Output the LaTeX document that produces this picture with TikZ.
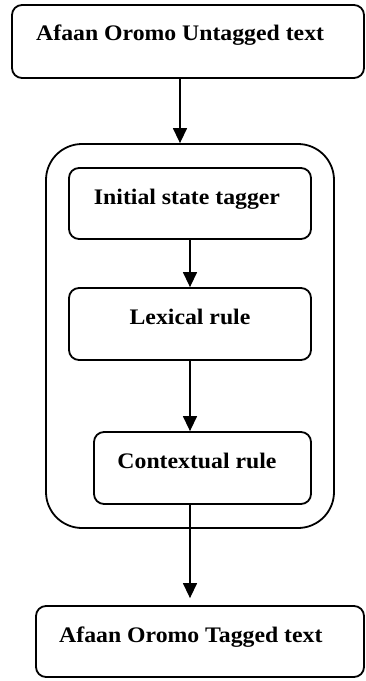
\documentclass[tikz,border=0pt]{standalone}
\usepackage{fontspec}
\setmainfont{Liberation Serif}[FakeStretch=1.07]
\usetikzlibrary{arrows.meta}
\begin{document}
\begin{tikzpicture}[x=1pt,y=-1pt,
  box/.style={draw,line width=1.8pt,rounded corners=10pt,inner sep=0pt},
  outerbox/.style={draw,line width=1.8pt,rounded corners=36pt,inner sep=0pt},
  lbl/.style={inner sep=0pt,font=\fontsize{22.2}{26}\selectfont\bfseries},
  arr/.style={line width=1.4pt,-{Triangle[width=14pt,length=15pt]}}]
\useasboundingbox (0,0) rectangle (365,681);
% boxes
\node[box,minimum width=352pt,minimum height=73pt] (top) at (188,41.5) {};
\node[outerbox,minimum width=288pt,minimum height=384pt] (outer) at (190,336) {};
\node[box,minimum width=242pt,minimum height=71pt] (init) at (190,203.5) {};
\node[box,minimum width=242pt,minimum height=72pt] (lex) at (190,324) {};
\node[box,minimum width=217pt,minimum height=72pt] (ctx) at (202.5,468) {};
\node[box,minimum width=328pt,minimum height=71pt] (bot) at (200,641.5) {};
% labels
\node[lbl,anchor=base west] (t1) at (36,40) {Afaan Oromo Untagged text};
\node[lbl,anchor=base] (t2) at (187,204) {Initial state tagger};
\node[lbl,anchor=base] (t3) at (190,324) {Lexical rule};
\node[lbl,anchor=base] (t4) at (197,468) {Contextual rule};
\node[lbl,anchor=base west] (t5) at (59,642) {Afaan Oromo Tagged text};
% arrows
\draw[arr] ([xshift=-8pt]top.south) -- ([xshift=-10pt]outer.north);
\draw[arr] (init.south) -- (lex.north);
\draw[arr] (lex.south) -- (lex.south |- ctx.north);
\draw[arr,shorten >=7pt] (lex.south |- ctx.south) -- (lex.south |- bot.north);
\end{tikzpicture}
\end{document}
